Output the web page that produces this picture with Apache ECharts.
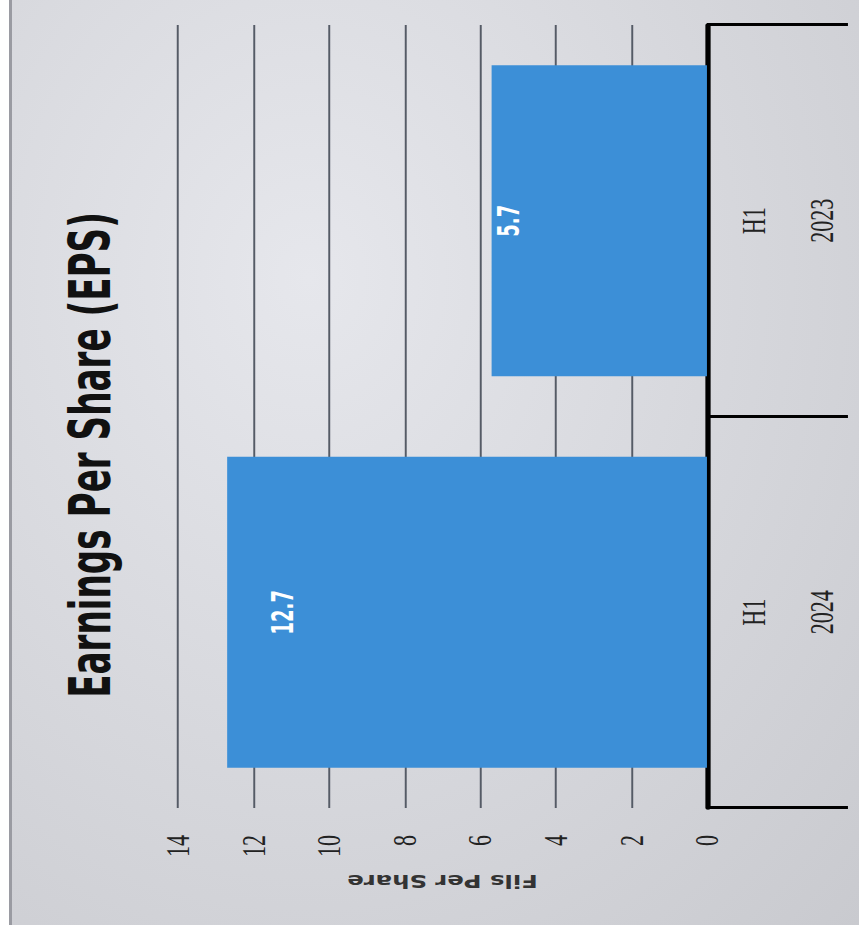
<!DOCTYPE html>
<html>
<head>
<meta charset="utf-8">
<script src="https://cdn.jsdelivr.net/npm/echarts@6/dist/echarts.min.js"></script>
<style>
  html, body { margin: 0; padding: 0; width: 867px; height: 933px; overflow: hidden; background: #ffffff; }
  #panel {
    position: absolute; left: 9px; top: 0px; width: 850px; height: 925px;
    background: radial-gradient(ellipse at 35% 30%, #e6e7ec 0%, #d6d7dc 55%, #c9cacf 100%);
    border-left: 3px solid #9a9ba2;
    box-sizing: border-box;
  }
  #chart {
    position: absolute; left: 0; top: 0; width: 933px; height: 578px;
    transform-origin: 0 0;
    transform: translate(0px, 933px) scale(1.5, 1) rotate(-90deg);
  }
</style>
</head>
<body>
<div id="panel"></div>
<div id="chart"></div>
<script>
// ---- data ----
const halves = ['H1', 'H1'];
const years = ['2024', '2023'];
const eps = [12.7, 5.7];
const yMin = 0;
const yMax = 14;
const yStep = 2;
const titleText = 'Earnings Per Share (EPS)';
const yAxisName = 'Fils Per Share';

// ---- build ----
const categories = halves.map((h, i) => h + '\n' + years[i]);
const labelDistances = [27, 1];

const chart = echarts.init(document.getElementById('chart'), null, { renderer: 'svg' });
chart.setOption({
  backgroundColor: 'transparent',
  animation: false,
  grid: { left: 125, right: 25, top: 118.7, bottom: 106.7, containLabel: false },
  graphic: [{
    type: 'text',
    x: 478, y: 60,
    style: {
      text: titleText,
      fill: '#111111',
      fontFamily: 'DejaVu Sans Condensed',
      fontWeight: 'bold',
      fontSize: 38,
      align: 'center',
      verticalAlign: 'middle'
    }
  }],
  xAxis: {
    type: 'category',
    data: categories,
    axisLine: { show: true, lineStyle: { color: '#000000', width: 3.5 } },
    axisTick: { show: true, length: 94, lineStyle: { color: '#000000', width: 3.2 } },
    axisLabel: {
      margin: 9,
      lineHeight: 45,
      fontSize: 22,
      fontFamily: 'Liberation Serif',
      color: '#222222'
    },
    splitLine: { show: false }
  },
  yAxis: {
    type: 'value',
    min: yMin, max: yMax, interval: yStep,
    name: yAxisName,
    nameLocation: 'middle',
    nameRotate: 90,
    nameGap: 64,
    nameTextStyle: { fontFamily: 'DejaVu Sans Condensed', fontWeight: 'bold', fontSize: 18, color: '#333333' },
    axisLine: { show: false },
    axisTick: { show: false },
    axisLabel: { margin: 27, fontSize: 22, fontFamily: 'Liberation Serif', color: '#222222' },
    splitLine: { show: true, lineStyle: { color: '#555b66', width: 1.3 } }
  },
  series: [{
    type: 'bar',
    data: eps.map((v, i) => ({
      value: v,
      label: { distance: labelDistances[i] }
    })),
    barCategoryGap: '20.5%',
    itemStyle: { color: '#3c8fd7' },
    label: {
      show: true,
      position: 'insideTop',
      color: '#ffffff',
      fontFamily: 'DejaVu Sans Condensed',
      fontWeight: 'bold',
      fontSize: 20
    }
  }]
});
</script>
</body>
</html>
